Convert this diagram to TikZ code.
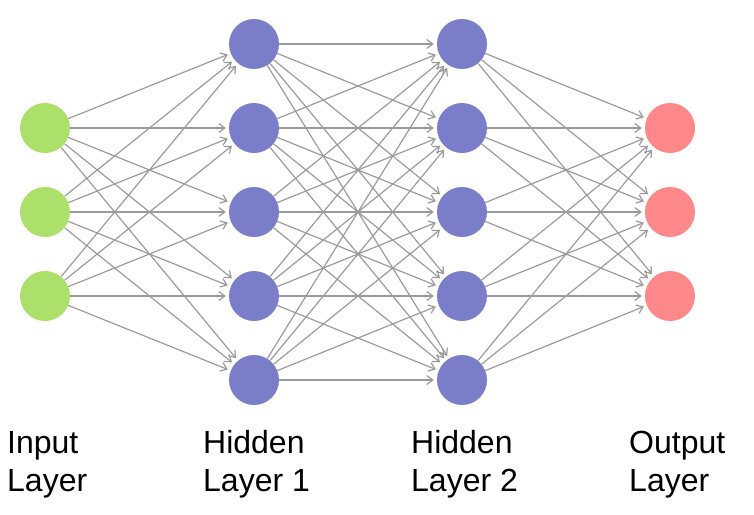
\documentclass[tikz,border=0pt]{standalone}
\usepackage{fontspec}
\setmainfont{Liberation Sans}
\usetikzlibrary{arrows.meta}
\definecolor{ingreen}{RGB}{172,224,106}
\definecolor{hidblue}{RGB}{122,126,200}
\definecolor{outred}{RGB}{255,136,138}
\definecolor{edgegray}{RGB}{155,155,155}
\begin{document}
\begin{tikzpicture}[x=1pt,y=-1pt,
  neuron/.style={circle,minimum size=50pt,inner sep=0pt,draw=none},
  inneuron/.style={neuron,fill=ingreen},
  hidneuron/.style={neuron,fill=hidblue},
  outneuron/.style={neuron,fill=outred},
  conn/.style={draw=edgegray,line width=1.2pt,-{Straight Barb[length=6pt,width=9pt,line width=1.2pt]},shorten >=3pt},
  lbl/.style={anchor=base west,align=left,inner sep=0pt,font=\fontsize{32}{38}\selectfont}]
\useasboundingbox (0,0) rectangle (754,514);
\foreach \i/\y in {1/128,2/212,3/296} \node[inneuron] (I\i) at (45,\y) {};
\foreach \i/\y in {1/44,2/128,3/212,4/296,5/380} \node[hidneuron] (A\i) at (254,\y) {};
\foreach \i/\y in {1/44,2/128,3/212,4/296,5/380} \node[hidneuron] (B\i) at (462,\y) {};
\foreach \i/\y in {1/128,2/212,3/296} \node[outneuron] (O\i) at (670,\y) {};
\foreach \s in {1,2,3} \foreach \t in {1,...,5} \draw[conn] (I\s) -- (A\t);
\foreach \s in {1,...,5} \foreach \t in {1,...,5} \draw[conn] (A\s) -- (B\t);
\foreach \s in {1,...,5} \foreach \t in {1,2,3} \draw[conn] (B\s) -- (O\t);
\node[lbl] (L1) at (7,491) {Input\\Layer};
\node[lbl] (L2) at (203,491) {Hidden\\Layer 1};
\node[lbl] (L3) at (411,491) {Hidden\\Layer 2};
\node[lbl] (L4) at (629,491) {Output\\Layer};
\end{tikzpicture}
\end{document}
